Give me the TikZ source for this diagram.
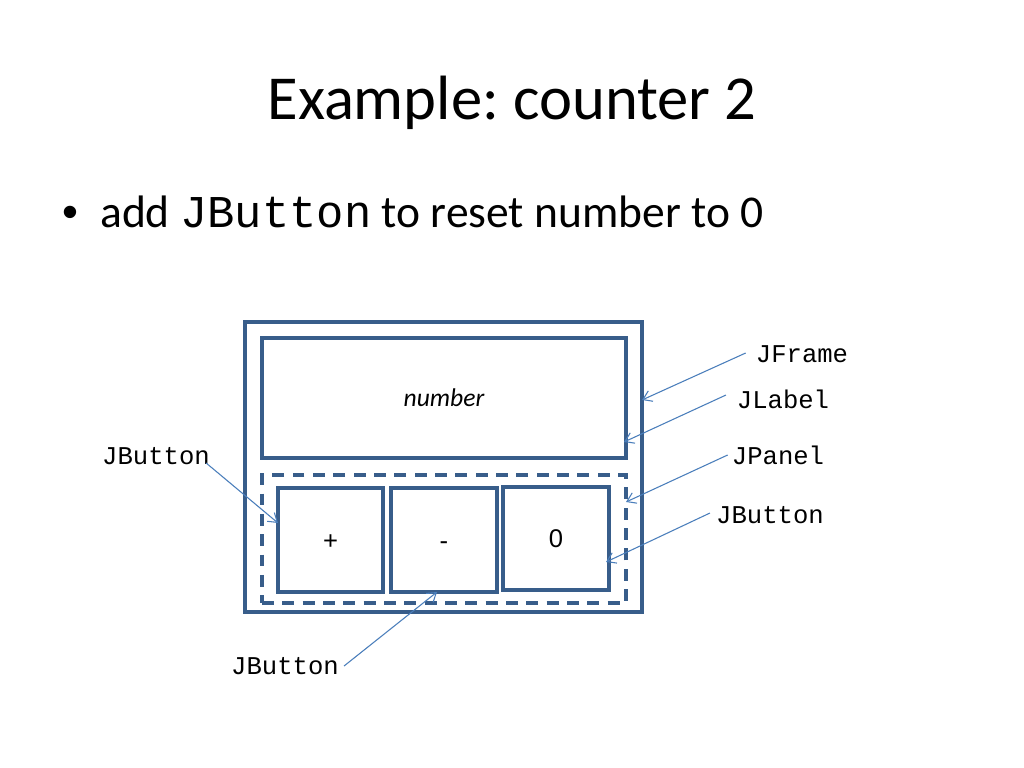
\documentclass[tikz,border=0pt]{standalone}
\usepackage{fontspec}
\setmainfont{Carlito}
\newfontfamily\cour{Liberation Mono}
\newfontfamily\arial{Liberation Sans}
\usetikzlibrary{arrows.meta}
\definecolor{boxblue}{HTML}{385D8A}
\definecolor{arrblue}{HTML}{4A7EBB}
\tikzset{
  thickbox/.style={draw=boxblue, line width=2.2pt, inner sep=0pt},
  panelbox/.style={draw=boxblue, line width=2.2pt, dash pattern=on 8.4pt off 5.9pt, inner sep=0pt},
  btnbox/.style={thickbox, font=\arial\fontsize{18}{22}\selectfont, text height=12.9pt, text depth=0pt},
  codelabel/.style={inner sep=0pt, font=\cour\fontsize{18}{22}\selectfont},
  arr/.style={draw=arrblue, line width=0.75pt, -{Straight Barb[length=6pt,width=8pt]}}
}
\begin{document}
\frenchspacing
\begin{tikzpicture}[x=0.703125pt, y=-0.703125pt]
\useasboundingbox[fill=white] (0,0) rectangle (1024,768);
% title and bullet
\node[anchor=base, inner sep=0pt, font=\fontsize{44}{53}\selectfont] (title) at (512,120) {Example: counter 2};
\node[anchor=base, inner sep=0pt, font=\arial\fontsize{32}{38}\selectfont] (bullet) at (70,228) {•};
\node[anchor=base west, inner sep=0pt, font=\fontsize{32}{38}\selectfont] (btext) at (100,228) {add {\cour JButton} to reset number to 0};
% boxes
\node[thickbox, minimum width=279.14pt, minimum height=203.91pt] (frame) at (443.5,467) {};
\node[thickbox, minimum width=255.94pt, minimum height=84.375pt, font=\itshape\fontsize{18}{22}\selectfont] (lbl) at (444,398) {number};
\node[panelbox, minimum width=255.94pt, minimum height=90pt] (panel) at (444,539) {};
\node[btnbox, minimum width=73.83pt, minimum height=73.125pt] (bplus) at (330.5,540) {+};
\node[btnbox, minimum width=74.53pt, minimum height=73.125pt] (bminus) at (444,540) {-};
\node[btnbox, minimum width=74.53pt, minimum height=72.42pt] (bzero) at (556,538.5) {0};
% labels
\node[codelabel] (jf) at (802,354) {JFrame};
\node[codelabel] (jl) at (783,399) {JLabel};
\node[codelabel] (jp) at (778,455) {JPanel};
\node[codelabel] (jbr) at (770,515) {JButton};
\node[codelabel] (jbl) at (156,456) {JButton};
\node[codelabel] (jbb) at (285,666) {JButton};
% arrow tips
\coordinate (tf) at (642,400);
\coordinate (tl) at (624,442);
\coordinate (tp) at (626,502);
\coordinate (tb0) at (606,562);
\coordinate (tbp) at (278,523);
\coordinate (tbm) at (437,592);
% arrows
\draw[arr] ([xshift=-7pt,yshift=0.7pt]jf.west) -- (tf);
\draw[arr] ([xshift=-7.5pt,yshift=2.8pt]jl.west) -- (tl);
\draw[arr] ([xshift=-2.8pt]jp.west) -- (tp);
\draw[arr] ([xshift=-4.2pt,yshift=1.4pt]jbr.west) -- (tb0);
\draw[arr] ([xshift=-2.8pt,yshift=-4.9pt]jbl.east) -- (tbp);
\draw[arr] ([xshift=3.5pt]jbb.east) -- (tbm);
\end{tikzpicture}
\end{document}
